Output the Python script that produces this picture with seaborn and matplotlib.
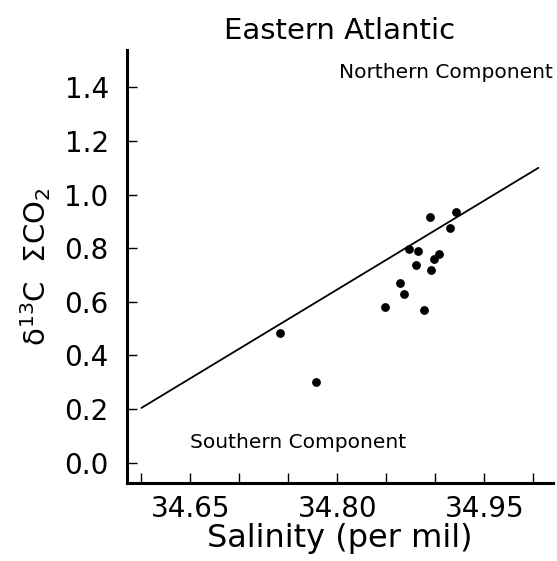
import matplotlib
matplotlib.use("Agg")
import matplotlib.pyplot as plt
import seaborn as sns
import pandas as pd

salinity = [34.741, 34.778, 34.848, 34.864, 34.868, 34.873, 34.882, 34.880,
            34.888, 34.894, 34.895, 34.899, 34.904, 34.915, 34.921]
d13c = [0.483, 0.302, 0.580, 0.670, 0.629, 0.798, 0.788, 0.738,
        0.569, 0.918, 0.718, 0.759, 0.778, 0.876, 0.936]
line_x = [34.600, 35.005]
line_y = [0.204, 1.100]
x_ticks = [34.60, 34.65, 34.70, 34.75, 34.80, 34.85, 34.90, 34.95, 35.00]
x_labels = ["", "34.65", "", "", "34.80", "", "", "34.95", ""]
y_ticks = [0.0, 0.2, 0.4, 0.6, 0.8, 1.0, 1.2, 1.4]
y_labels = ["0.0", "0.2", "0.4", "0.6", "0.8", "1.0", "1.2", "1.4"]

sns.set_style("ticks", {"xtick.direction": "in", "ytick.direction": "in",
                        "text.color": "black", "axes.labelcolor": "black",
                        "xtick.color": "black", "ytick.color": "black"})
plt.rcParams['font.family'] = ['DejaVu Sans']

fig = plt.figure(figsize=(5.57, 5.61), dpi=100)
ax = fig.add_axes([0.2275, 0.1396, 0.7655, 0.7714])

df = pd.DataFrame({"s": salinity, "d": d13c})
sns.scatterplot(data=df, x="s", y="d", ax=ax, color="black", s=40,
                edgecolor="black", linewidth=0)
sns.lineplot(x=line_x, y=line_y, ax=ax, color="black", linewidth=1.3)

ax.set_xlim(34.585, 35.02)
ax.set_ylim(-0.075, 1.54)
ax.set_xticks(x_ticks)
ax.set_xticklabels(x_labels)
ax.set_yticks(y_ticks)
ax.set_yticklabels(y_labels)
ax.tick_params(axis="both", direction="in", length=7, width=1, color="black",
               labelcolor="black", labelsize=20)
ax.tick_params(axis="x", pad=9)
ax.tick_params(axis="y", pad=13)
for sp in ["top", "right"]:
    ax.spines[sp].set_visible(False)
for sp in ["left", "bottom"]:
    ax.spines[sp].set_linewidth(2.2)
    ax.spines[sp].set_color("black")

ax.set_xlabel("Salinity (per mil)", fontsize=23, labelpad=0, color="black")
ax.set_ylabel("δ$^{13}$C  ΣCO$_2$", fontsize=21, labelpad=8, color="black")
ax.set_title("Eastern Atlantic", fontsize=21, pad=8, color="black")

ax.text(1.0, 0.947, "Northern Component", transform=ax.transAxes,
        ha="right", va="center", fontsize=14.5, color="black")
ax.text(0.148, 0.094, "Southern Component", transform=ax.transAxes,
        ha="left", va="center", fontsize=14.5, color="black")

fig.savefig("out.png", dpi=100)
